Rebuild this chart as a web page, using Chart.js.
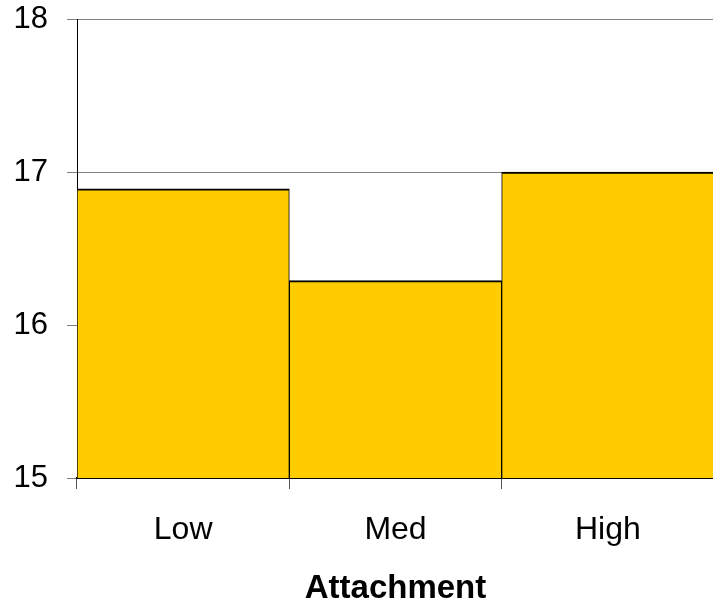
<!DOCTYPE html>
<html>
<head>
<meta charset="utf-8">
<script src="https://cdn.jsdelivr.net/npm/chart.js@4/dist/chart.umd.min.js"></script>
<style>
html,body{margin:0;padding:0;overflow:hidden;background:#fff;}
#wrap{width:714px;height:609px;position:relative;}
</style>
</head>
<body>
<div id="wrap"><canvas id="c"></canvas></div>
<script>
const categories = ['Low', 'Med', 'High'];
const values = [16.89, 16.29, 17.0];
const yTicks = [15, 16, 17, 18];
const xTitle = 'Attachment';

const FONT = '"Liberation Sans", Arial, sans-serif';

new Chart(document.getElementById('c'), {
  type: 'bar',
  data: {
    labels: categories,
    datasets: [{
      data: values,
      backgroundColor: '#FFCC00',
      borderColor: '#000000',
      borderWidth: {top: 2, left: 1, right: 1, bottom: 0},
      borderSkipped: false,
      barPercentage: 1.0,
      categoryPercentage: 1.0
    }]
  },
  options: {
    responsive: true,
    maintainAspectRatio: false,
    animation: false,
    layout: {padding: {top: 19, left: 15, right: 0, bottom: 0}},
    plugins: {legend: {display: false}, tooltip: {enabled: false}},
    scales: {
      x: {
        offset: true,
        afterFit: (axis) => { axis.height = 131; axis.paddingLeft = 0; axis.paddingRight = 0; },
        grid: {offset: true, drawOnChartArea: false, drawTicks: true, tickLength: 11, tickColor: '#555555', lineWidth: 1},
        border: {color: '#000000', width: 2},
        ticks: {color: '#000000', font: {family: FONT, size: 32}, padding: 22, maxRotation: 0},
        title: {display: true, text: xTitle, color: '#000000', font: {family: FONT, size: 33, weight: 'bold'}, padding: {top: 0, bottom: 0}}
      },
      y: {
        min: 15,
        max: 18,
        afterBuildTicks: (axis) => { axis.ticks = yTicks.map(v => ({value: v})); },
        afterFit: (axis) => { axis.width = 62; axis.paddingTop = 0; axis.paddingBottom = 0; },
        grid: {color: '#808080', lineWidth: 1, drawTicks: true, tickLength: 10, tickColor: '#808080'},
        border: {color: '#000000', width: 1},
        ticks: {color: '#000000', font: {family: FONT, size: 31}, padding: 19}
      }
    }
  }
});
</script>
</body>
</html>
